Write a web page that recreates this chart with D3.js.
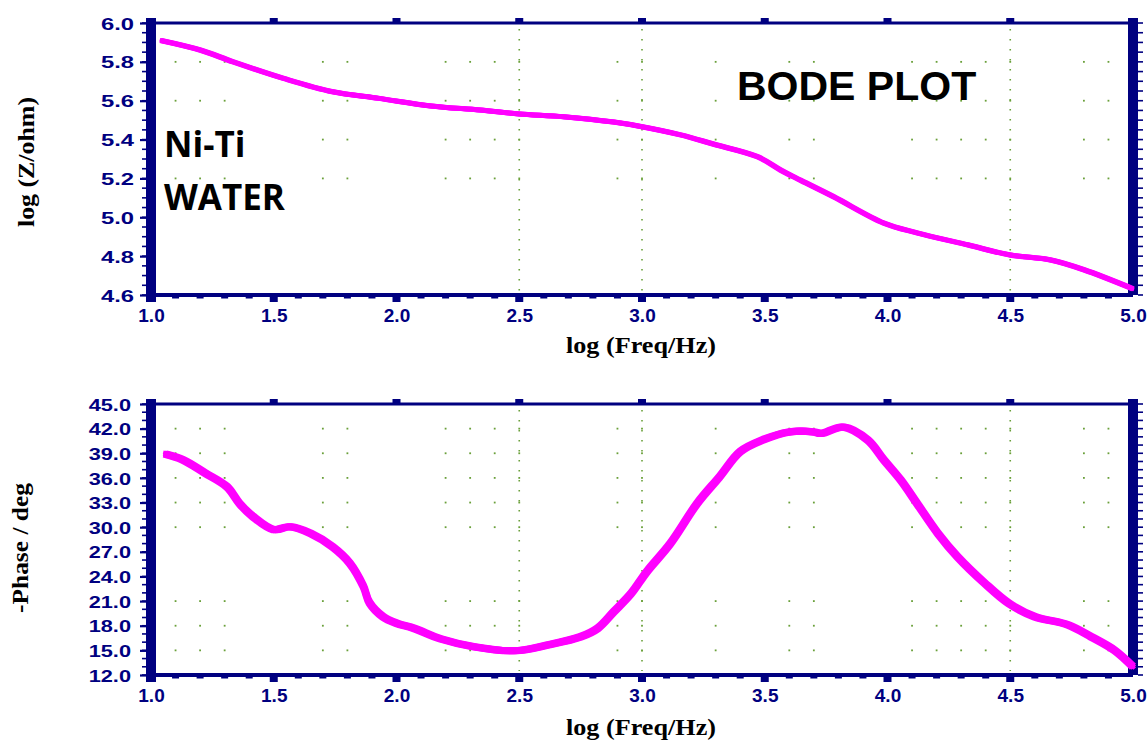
<!DOCTYPE html>
<html>
<head>
<meta charset="utf-8">
<script src="https://cdn.jsdelivr.net/npm/d3@7"></script>
<style>
  html, body { margin: 0; padding: 0; background: #fff; }
  svg { display: block; }
</style>
</head>
<body>
<svg id="chart" width="1148" height="740"></svg>
<script>
// ---------------- DATA ----------------
const xTickValues = [1.0, 1.5, 2.0, 2.5, 3.0, 3.5, 4.0, 4.5, 5.0];
const zTickValues = [6.0, 5.8, 5.6, 5.4, 5.2, 5.0, 4.8, 4.6];
const phaseTickValues = [45, 42, 39, 36, 33, 30, 27, 24, 21, 18, 15, 12];

const freqZ = [1.04, 1.2, 1.335, 1.54, 1.74, 1.93, 2.14, 2.34, 2.50, 2.68, 2.885, 3.0, 3.157, 3.29, 3.47, 3.565, 3.647, 3.78, 3.985, 4.12, 4.33, 4.50, 4.665, 4.80, 5.0];
const logZ  = [5.91, 5.861, 5.80, 5.715, 5.646, 5.612, 5.573, 5.552, 5.532, 5.518, 5.49, 5.466, 5.424, 5.377, 5.312, 5.243, 5.19, 5.106, 4.97, 4.92, 4.857, 4.806, 4.78, 4.73, 4.632];

const freqP = [1.057, 1.13, 1.22, 1.31, 1.36, 1.415, 1.50, 1.565, 1.65, 1.74, 1.81, 1.865, 1.89, 1.945, 2.0, 2.07, 2.18, 2.315, 2.48, 2.615, 2.75, 2.82, 2.885, 2.955, 3.02, 3.115, 3.225, 3.315, 3.40, 3.49, 3.60, 3.70, 3.73, 3.82, 3.92, 3.985, 4.055, 4.12, 4.205, 4.285, 4.395, 4.495, 4.60, 4.735, 4.83, 4.925, 5.0];
const phase = [38.9, 38.2, 36.6, 34.9, 32.9, 31.3, 29.7, 30.05, 29.25, 27.6, 25.6, 22.8, 20.8, 19.1, 18.3, 17.7, 16.4, 15.45, 14.95, 15.65, 16.65, 17.7, 19.7, 21.9, 24.6, 28.0, 32.9, 36.1, 39.2, 40.6, 41.6, 41.6, 41.4, 42.2, 40.6, 38.2, 35.7, 32.9, 29.25, 26.4, 23.2, 20.7, 19.1, 18.1, 16.65, 15.0, 13.0];

// visible grid dot columns and rows
const gridDotX = [1.1, 1.2, 1.3, 1.7, 1.8, 2.2, 2.3, 2.4, 2.5, 2.9, 3.0, 3.3, 3.6, 3.7, 4.1, 4.2, 4.3, 4.4, 4.5, 4.8, 4.9];
const gridLineX = [2.5, 3.0, 4.5];
const zDotRows = [5.8, 5.6, 5.4, 5.2];
const phaseDotRows = [42, 39, 36, 33, 30, 21, 18, 15];

const xTitle = "log (Freq/Hz)";
const zTitle = "log (Z/ohm)";
const phaseTitle = "-Phase / deg";
const plotTitle = "BODE PLOT";
const sampleLines = ["Ni-Ti", "WATER"];

// ---------------- DRAW ----------------
const NAVY = "#000080";
const MAGENTA = "#ff00ff";
const DOT = "#6aa03a";

const svg = d3.select("#chart");
const x = d3.scaleLinear().domain([1.0, 5.0]).range([151, 1133]);

function panel(cfg) {
  const y = d3.scaleLinear().domain(cfg.domain).range([cfg.bottom, cfg.top]);
  const g = svg.append("g");

  // grid: vertical dotted lines
  g.selectAll("line.vgrid").data(gridLineX).join("line")
    .attr("x1", d => x(d)).attr("x2", d => x(d))
    .attr("y1", cfg.top + 6).attr("y2", cfg.bottom - 4)
    .attr("stroke", DOT).attr("stroke-width", 1.6)
    .attr("stroke-dasharray", "1.6 8.4");

  // grid dots
  const dots = [];
  cfg.dotRows.forEach(r => gridDotX.forEach(c => dots.push([c, r])));
  g.selectAll("rect.dot").data(dots).join("rect")
    .attr("x", d => x(d[0]) - 0.9).attr("y", d => y(d[1]) - 0.9)
    .attr("width", 1.8).attr("height", 1.8).attr("fill", DOT);

  // frame top and bottom lines
  g.append("line").attr("x1", x(1.0)).attr("x2", x(5.0))
    .attr("y1", cfg.top).attr("y2", cfg.top)
    .attr("stroke", NAVY).attr("stroke-width", 3);
  g.append("line").attr("x1", x(1.0)).attr("x2", x(5.0))
    .attr("y1", cfg.bottom).attr("y2", cfg.bottom)
    .attr("stroke", NAVY).attr("stroke-width", 4);

  // top major squares
  g.selectAll("rect.tsq").data(xTickValues.slice(1, -1)).join("rect")
    .attr("x", d => x(d) - 4).attr("y", cfg.top - 5)
    .attr("width", 8).attr("height", 5).attr("fill", NAVY);

  // bottom axis: minor + major ticks + labels
  const minorX = d3.range(10, 51).map(v => v / 10).filter(v => Math.abs(v * 2 - Math.round(v * 2)) > 1e-6);
  g.selectAll("rect.bmin").data(minorX).join("rect")
    .attr("x", d => x(d) - 3.5).attr("y", cfg.bottom)
    .attr("width", 7).attr("height", 3.5).attr("fill", NAVY);
  g.selectAll("rect.bmaj").data(xTickValues.slice(1, -1)).join("rect")
    .attr("x", d => x(d) - 4).attr("y", cfg.bottom)
    .attr("width", 8).attr("height", 7).attr("fill", NAVY);

  const xAxis = d3.axisBottom(x).tickValues(xTickValues).tickSize(0).tickPadding(0)
    .tickFormat(d3.format(".1f"));
  const xa = g.append("g").attr("transform", `translate(0,${cfg.bottom})`).call(xAxis);
  xa.select(".domain").remove();
  xa.selectAll("text").attr("dy", null).attr("y", 27)
    .attr("font-family", "Arial, 'Liberation Sans', sans-serif")
    .attr("font-weight", "bold").attr("font-size", 19).attr("fill", NAVY);

  // left thick bar
  g.append("rect").attr("x", x(1.0) - 5).attr("y", cfg.top - 5)
    .attr("width", 10).attr("height", cfg.bottom - cfg.top + 12).attr("fill", NAVY);
  // right thick bar
  g.append("rect").attr("x", x(5.0) - 5).attr("y", cfg.top - 5)
    .attr("width", 10).attr("height", cfg.bottom - cfg.top + 5).attr("fill", NAVY);

  // left minor ticks
  const minorY = d3.range(cfg.domain[0], cfg.domain[1] + cfg.minor / 2, cfg.minor);
  g.selectAll("line.lmin").data(minorY).join("line")
    .attr("x1", x(1.0) - 5).attr("x2", x(1.0) - 9)
    .attr("y1", d => y(d)).attr("y2", d => y(d))
    .attr("stroke", NAVY).attr("stroke-width", 1.6);
  // right minor ticks
  g.selectAll("line.rmin").data(minorY).join("line")
    .attr("x1", x(5.0) + 5).attr("x2", x(5.0) + 10)
    .attr("y1", d => y(d)).attr("y2", d => y(d))
    .attr("stroke", NAVY).attr("stroke-width", 1.6);

  // left axis major ticks + labels
  const yAxis = d3.axisLeft(y).tickValues(cfg.ticks).tickSize(11).tickPadding(0)
    .tickFormat(d3.format(".1f"));
  const ya = g.append("g").attr("transform", `translate(${x(1.0)},0)`).call(yAxis);
  ya.select(".domain").remove();
  ya.selectAll("line").attr("stroke", NAVY).attr("stroke-width", 2.2);
  ya.selectAll("text").attr("x", 0).attr("dy", "0.36em")
    .attr("transform", `translate(${cfg.labelRight - x(1.0)},0) scale(${cfg.labelStretch},1)`)
    .attr("font-family", "Arial, 'Liberation Sans', sans-serif")
    .attr("font-weight", "bold").attr("font-size", 17).attr("fill", NAVY);

  // curve drawn with a square "pen" (union of offset strokes)
  const line = d3.line().x(d => x(d[0])).y(d => y(d[1])).curve(d3.curveCatmullRom.alpha(0.5));
  const pts = cfg.xs.map((v, i) => [v, cfg.ys[i]]);
  const h = cfg.penHalf;
  const offsets = [];
  [-h, 0, h].forEach(dx => [-h, 0, h].forEach(dy => offsets.push([dx, dy])));
  g.selectAll("path.curve").data(offsets).join("path")
    .attr("class", "curve")
    .attr("transform", d => `translate(${d[0]},${d[1]})`)
    .attr("d", line(pts)).attr("fill", "none").attr("stroke", MAGENTA)
    .attr("stroke-width", cfg.lineWidth).attr("stroke-linejoin", "round");

  // axis titles
  g.append("text").attr("x", 641).attr("y", cfg.bottom + cfg.xTitleOffset)
    .attr("text-anchor", "middle")
    .attr("font-family", "'Liberation Serif', 'Times New Roman', serif")
    .attr("font-weight", "bold").attr("font-size", 23)
    .attr("textLength", 150).attr("lengthAdjust", "spacingAndGlyphs")
    .attr("fill", "#000").text(xTitle);

  g.append("text")
    .attr("transform", `translate(${cfg.yTitleX},${cfg.yTitleY}) rotate(-90)`)
    .attr("text-anchor", "middle")
    .attr("font-family", "'Liberation Serif', 'Times New Roman', serif")
    .attr("font-weight", "bold").attr("font-size", 23)
    .attr("textLength", 130).attr("lengthAdjust", "spacingAndGlyphs")
    .attr("fill", "#000").text(cfg.yTitle);

  return { g, y };
}

const topPanel = panel({
  domain: [4.6, 6.0], top: 23, bottom: 295, ticks: zTickValues, minor: 0.05,
  dotRows: zDotRows, xs: freqZ, ys: logZ, lineWidth: 3, penHalf: 1,
  labelRight: 134, labelStretch: 1.4, xTitleOffset: 58,
  yTitle: zTitle, yTitleX: 34, yTitleY: 162
});

const bottomPanel = panel({
  domain: [12, 45], top: 404, bottom: 675, ticks: phaseTickValues, minor: 1,
  dotRows: phaseDotRows, xs: freqP, ys: phase, lineWidth: 3.5, penHalf: 1.8,
  labelRight: 131, labelStretch: 1.28, xTitleOffset: 60,
  yTitle: phaseTitle, yTitleX: 28, yTitleY: 548
});

// annotations
svg.append("text").attr("x", 737).attr("y", 100)
  .attr("font-family", "Arial, 'Liberation Sans', sans-serif")
  .attr("font-weight", "bold").attr("font-size", 41).attr("fill", "#000")
  .text(plotTitle);

svg.selectAll("text.sample").data(sampleLines).join("text")
  .attr("class", "sample")
  .attr("x", 164).attr("y", (d, i) => 157 + i * 53)
  .attr("font-family", "'Open Sans', 'Noto Sans', sans-serif")
  .attr("font-weight", "bold").attr("font-size", 35).attr("fill", "#000")
  .text(d => d);
</script>
</body>
</html>
